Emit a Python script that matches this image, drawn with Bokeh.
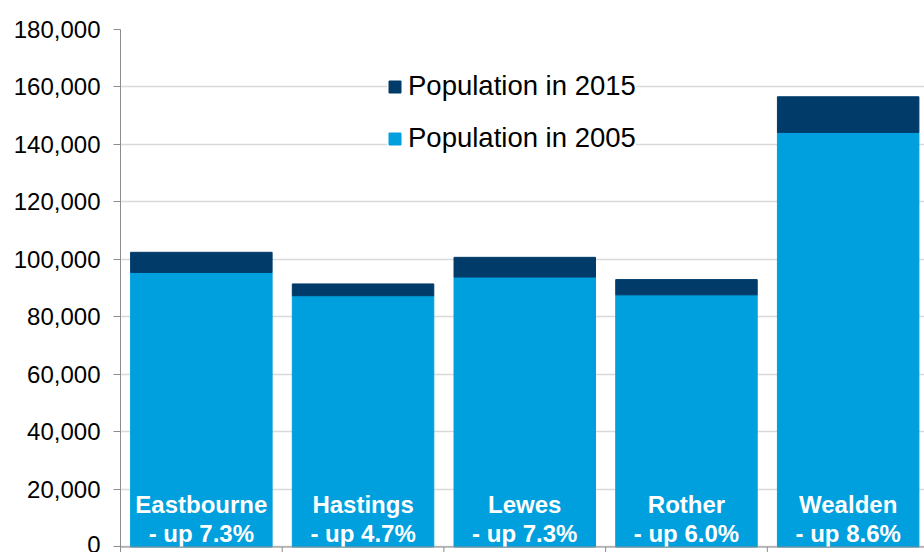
import numpy as np
from bokeh.plotting import figure
from bokeh.models import Range1d, Legend, LegendItem, NumeralTickFormatter, FixedTicker, ColumnDataSource, Span
from bokeh.core.properties import value
from bokeh.embed import file_html
from bokeh.resources import INLINE

# ---- data ----
districts = ["Eastbourne", "Hastings", "Lewes", "Rother", "Wealden"]
pop_2005 = [95500, 87400, 93900, 87700, 144200]
pop_2015 = [102500, 91500, 100750, 93000, 156600]
growth_labels = ["- up 7.3%", "- up 4.7%", "- up 7.3%", "- up 6.0%", "- up 8.6%"]
y_ticks = [0, 20000, 40000, 60000, 80000, 100000, 120000, 140000, 160000, 180000]

LIGHT = "#00A0DE"
DARK = "#003B69"
AXIS = "#8C8C8C"
FONT = "Liberation Sans"

n = len(districts)
xs = np.arange(n) + 0.5
src = ColumnDataSource(dict(x=xs, p05=pop_2005, p15=pop_2015, name=districts, growth=growth_labels,
                            name_y=[14800] * n, growth_y=[4700] * n))

p = figure(width=924, height=552, output_backend="svg", toolbar_location=None,
           x_range=Range1d(0, 4.972), y_range=Range1d(-1915, 180000),
           x_axis_location=None,
           min_border_left=120, min_border_right=0, min_border_top=29, min_border_bottom=0)
p.outline_line_color = None
p.background_fill_color = "white"
p.border_fill_color = "white"

p.xgrid.visible = False
p.ygrid.ticker = FixedTicker(ticks=y_ticks)
p.ygrid.grid_line_color = "#D9D9D9"
p.ygrid.grid_line_width = 1.5

r05 = p.vbar(x="x", width=0.875, bottom=0, top="p05", source=src,
             fill_color=LIGHT, line_color=LIGHT, line_width=1)
r15 = p.vbar(x="x", width=0.875, bottom="p05", top="p15", source=src,
             fill_color=DARK, line_color=DARK, line_width=1)

# category axis line along zero with boundary ticks
p.add_layout(Span(location=0, dimension="width", line_color=AXIS, line_width=1))
bounds = np.arange(1, n + 1)
p.segment(x0=bounds, x1=bounds, y0=[0] * n, y1=[-1915] * n, line_color=AXIS, line_width=1)

p.text(x="x", y="name_y", text="name", source=src, text_color="white",
       text_font=value(FONT), text_font_style="bold", text_font_size="24px",
       text_align="center", text_baseline="alphabetic")
p.text(x="x", y="growth_y", text="growth", source=src, text_color="white",
       text_font=value(FONT), text_font_style="bold", text_font_size="24px",
       text_align="center", text_baseline="alphabetic")

yax = p.yaxis[0]
yax.ticker = FixedTicker(ticks=y_ticks)
yax.formatter = NumeralTickFormatter(format="0,0")
yax.major_label_text_font = FONT
yax.major_label_text_font_size = "24px"
yax.major_label_text_color = "black"
yax.axis_line_color = AXIS
yax.major_tick_line_color = AXIS
yax.major_tick_out = 7
yax.major_tick_in = 0
yax.minor_tick_out = 0
yax.minor_tick_in = 0
yax.major_label_standoff = 13

legend = Legend(items=[LegendItem(label="Population in 2015", renderers=[r15]),
                       LegendItem(label="Population in 2005", renderers=[r05])],
                location=(267, 398), orientation="vertical",
                glyph_width=15, glyph_height=15, label_standoff=6,
                label_text_font=FONT, label_text_font_size="27.5px",
                label_text_color="black",
                label_height=32, spacing=20, padding=10, margin=0,
                border_line_color=None, background_fill_color="white",
                background_fill_alpha=1.0)
p.add_layout(legend)

open("out.html", "w").write(file_html(p, INLINE))
